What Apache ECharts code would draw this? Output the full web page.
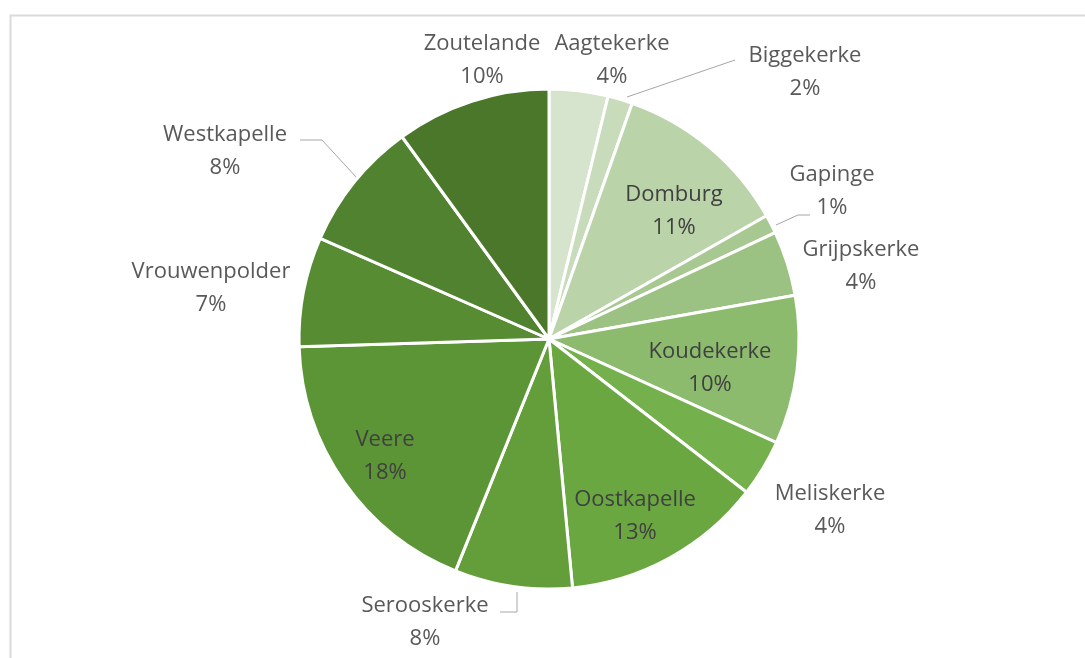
<!DOCTYPE html>
<html><head><meta charset="utf-8">
<script src="https://cdn.jsdelivr.net/npm/echarts@6/dist/echarts.min.js"></script>
<style>html,body{margin:0;padding:0;background:#fff}#c{width:1085px;height:658px}</style>
</head><body><div id="c"></div>
<script>
const categories = ['Aagtekerke','Biggekerke','Domburg','Gapinge','Grijpskerke','Koudekerke','Meliskerke','Oostkapelle','Serooskerke','Veere','Vrouwenpolder','Westkapelle','Zoutelande'];
const values = [3.8, 1.6, 11.4, 1.2, 4.2, 9.6, 3.7, 13.0, 7.6, 18.4, 7.1, 8.4, 10.0];
const colors = ['#d6e4cd','#c8dbbb','#bad3a9','#a8c892','#9bc283','#8cbb6e','#74b04c','#6aa741','#639e3b','#5c9536','#578c33','#508230','#4a772a'];
const insideLabels = ['Domburg','Koudekerke','Oostkapelle','Veere'];
const leaderLabels = ['Biggekerke','Gapinge','Westkapelle','Serooskerke'];

// layout: pie centre / radius, label block centres and leader-line bends (offsets from pie centre)
const CX = 549, CY = 339, R = 250;
const labelOffset = {
  Zoutelande: [-67, -279], Aagtekerke: [63, -279], Biggekerke: [256, -267],
  Domburg: [125, -128], Gapinge: [283, -148], Grijpskerke: [312, -73],
  Koudekerke: [161, 29], Meliskerke: [281, 171], Oostkapelle: [86, 177],
  Serooskerke: [-124, 283], Veere: [-164, 117], Vrouwenpolder: [-338, -51],
  Westkapelle: [-324, -188]
};
const leaderOffset = {
  Biggekerke: [[78, -242], [186, -279]],
  Gapinge: [[227, -114], [249, -124], [261, -124]],
  Westkapelle: [[-192, -161], [-227, -199], [-249, -199]],
  Serooskerke: [[-32, 253], [-32, 273], [-49, 273]]
};

const chart = echarts.init(document.getElementById('c'), null, {renderer: 'canvas'});
const data = categories.map((n, i) => ({
  name: n,
  value: values[i],
  itemStyle: {color: colors[i]},
  label: {color: insideLabels.includes(n) ? '#404040' : '#595959'},
  labelLine: {show: leaderLabels.includes(n)}
}));
chart.setOption({
  animation: false,
  backgroundColor: '#ffffff',
  graphic: [{
    type: 'rect', left: 8, top: 13, silent: true,
    shape: {x: 0, y: 0, width: 1200, height: 800},
    style: {fill: 'none', stroke: '#dadada', lineWidth: 2}
  }],
  series: [{
    type: 'pie',
    center: [CX, CY],
    radius: [0, R],
    startAngle: 90,
    clockwise: true,
    percentPrecision: 0,
    avoidLabelOverlap: false,
    minShowLabelAngle: 0,
    itemStyle: {borderColor: '#ffffff', borderWidth: 3},
    label: {
      show: true, position: 'outside',
      formatter: '{b}\n{d}%',
      fontFamily: 'Open Sans', fontSize: 22, lineHeight: 33,
      color: '#595959'
    },
    labelLine: {show: true, length: 10, length2: 12, lineStyle: {color: '#a6a6a6', width: 1}},
    labelLayout: function (p) {
      const n = categories[p.dataIndex];
      const o = labelOffset[n];
      const res = {x: CX + o[0], y: CY + o[1], align: 'center', verticalAlign: 'middle'};
      if (leaderOffset[n]) {
        res.labelLinePoints = leaderOffset[n].map(q => [CX + q[0], CY + q[1]]);
      }
      return res;
    },
    data: data
  }]
});
</script></body></html>
